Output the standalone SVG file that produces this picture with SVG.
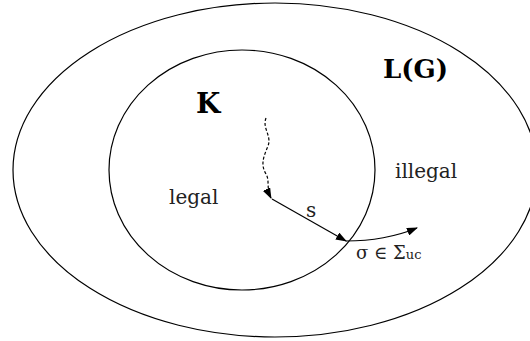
<svg xmlns="http://www.w3.org/2000/svg" width="530" height="341" viewBox="0 0 530 341">
<defs>
<style>
.shape{fill:none;stroke:#000;stroke-width:1.2}
.lbl{font-family:"DejaVu Serif","Liberation Serif",serif;fill:#222}
.big{font-family:"DejaVu Serif","Liberation Serif",serif;font-weight:bold;fill:#000}
.edge{fill:none;stroke:#000;stroke-width:1.2}
</style>
<marker id="ah" markerWidth="11" markerHeight="8" refX="10" refY="4" orient="auto" markerUnits="userSpaceOnUse">
<path d="M0,0 L11,4 L0,8 Z" fill="#000"/>
</marker>
</defs>
<g id="LG">
<ellipse class="shape" cx="275" cy="170" rx="262" ry="167"/>
<text class="big" x="383" y="78" font-size="26">L(G)</text>
</g>
<g id="K">
<ellipse class="shape" cx="242" cy="170" rx="133" ry="120"/>
<text class="big" x="196" y="113" font-size="28">K</text>
</g>
<g id="legal"><text class="lbl" x="169" y="204" font-size="20">legal</text></g>
<g id="illegal"><text class="lbl" x="395" y="178" font-size="20">illegal</text></g>
<g id="connectors">
<path class="edge" d="M266,118 C262,128 272,136 268,146 C264,156 260,164 266,174 C270,181 266,188 271,198" stroke-dasharray="3,2" marker-end="url(#ah)"/>
<path class="edge" d="M272,199 L346,241" marker-end="url(#ah)"/>
<path class="edge" d="M346,241 Q385,241 417,228" marker-end="url(#ah)"/>
<text class="lbl" x="306" y="217" font-size="20">s</text>
<text class="lbl" x="356" y="259" font-size="18">σ ∈ Σ<tspan font-size="13">uc</tspan></text>
</g>
</svg>
